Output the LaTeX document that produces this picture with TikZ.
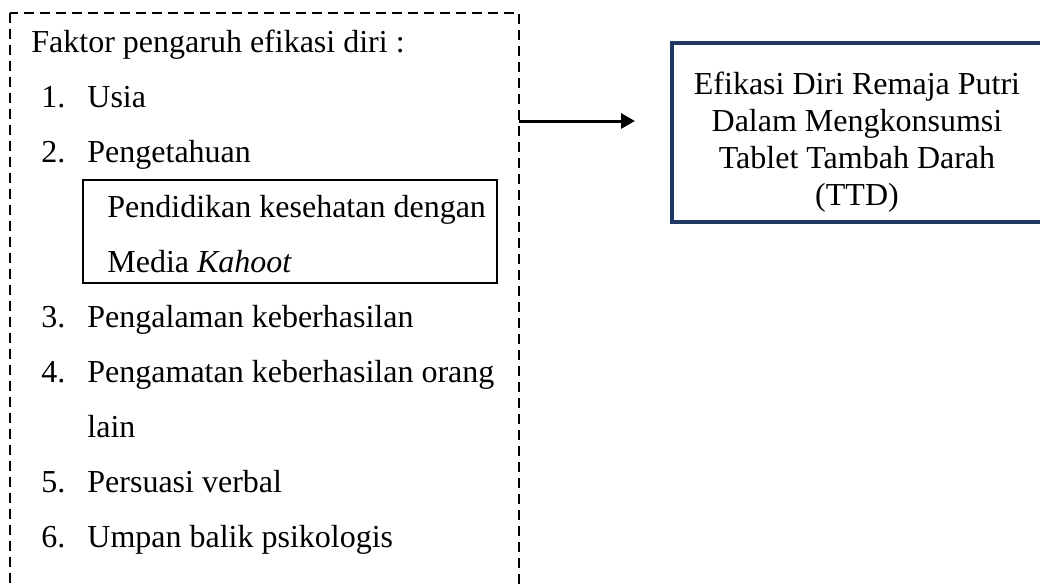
\documentclass[tikz,border=0pt]{standalone}
\usepackage{fontspec}
\setmainfont{Liberation Serif}
\usetikzlibrary{arrows.meta}
\definecolor{garisbiru}{RGB}{31,56,100}

\begin{document}
\begin{tikzpicture}[x=0.5pt,y=-0.5pt,
  teks/.style={anchor=base west,inner sep=0pt,font=\fontsize{16}{18.4}\selectfont},
  garisputus/.style={line width=1pt,dash pattern=on 5pt off 3pt},
  kotakhitam/.style={line width=1.3pt},
  kotakbiru/.style={draw=garisbiru,line width=1.6pt,minimum width=186.5pt,minimum height=89.5pt,inner sep=0pt},
  teksbiru/.style={anchor=base,inner sep=0pt,align=center,font=\fontsize{16}{18.4}\selectfont},
  panah/.style={line width=1.5pt,-{Triangle[length=7pt,width=7.5pt]}}]

  \useasboundingbox (0,0) rectangle (1040,584);
  \clip (0,0) rectangle (1040,584);

  % kotak putus-putus
  \draw[garisputus] (10,13) rectangle (519,620);
  \coordinate (pangkal) at (519,121);

  \node[teks] (judul) at (31,52) {Faktor pengaruh efikasi diri :};
  \node[teks] (no1) at (41,107) {1.};
  \node[teks] (usia) at (87,107) {Usia};
  \node[teks] (no2) at (41,162) {2.};
  \node[teks] (pengetahuan) at (87,162) {Pengetahuan};

  % kotak pendidikan
  \draw[kotakhitam] (83,180) rectangle (497,283);
  \node[teks] (pendidikan) at (107,217) {Pendidikan kesehatan dengan};
  \node[teks] (media) at (107,272) {Media \textit{Kahoot}};

  \node[teks] (no3) at (41,327) {3.};
  \node[teks] (pengalaman) at (87,327) {Pengalaman keberhasilan};
  \node[teks] (no4) at (41,382) {4.};
  \node[teks] (pengamatan) at (87,382) {Pengamatan keberhasilan orang};
  \node[teks] (lain) at (87,437) {lain};
  \node[teks] (no5) at (41,492) {5.};
  \node[teks] (persuasi) at (87,492) {Persuasi verbal};
  \node[teks] (no6) at (41,547) {6.};
  \node[teks] (umpan) at (87,547) {Umpan balik psikologis};

  % kotak efikasi
  \node[kotakbiru] (efikasi) at (858.5,132.5) {};
  \node[teksbiru] (efikasiteks) at (857,205) {Efikasi Diri Remaja Putri\\Dalam Mengkonsumsi\\Tablet Tambah Darah\\(TTD)};

  \coordinate (ujung) at (635,121);
  \draw[panah] (pangkal) -- (ujung);
\end{tikzpicture}
\end{document}
